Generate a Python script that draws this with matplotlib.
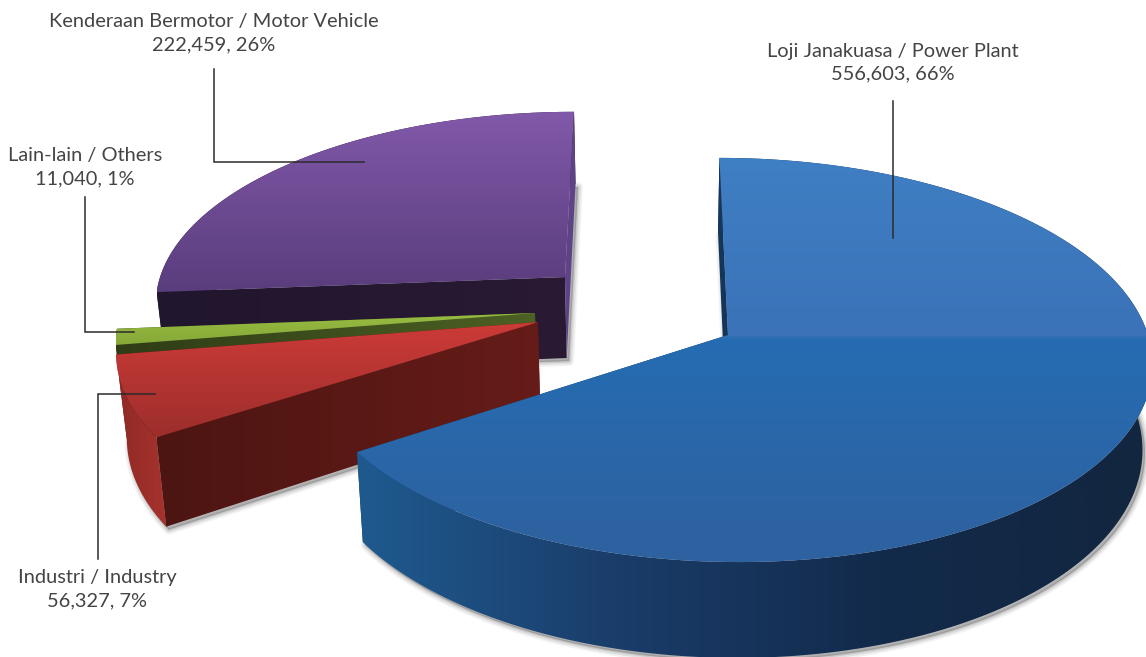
import numpy as np
import matplotlib
matplotlib.use("Agg")
import matplotlib.pyplot as plt
from matplotlib.patches import Polygon
from matplotlib.colors import LinearSegmentedColormap

# Clockwise round the pie, starting from blue at twelve o'clock
categories = ["Loji Janakuasa / Power Plant", "Industri / Industry",
              "Lain-lain / Others", "Kenderaan Bermotor / Motor Vehicle"]
values = [556603, 56327, 11040, 222459]
percents = [66, 7, 1, 26]

# camera, pixels of the picture
VX, VY0 = 650, 335
RADIUS = 420
FLAT = 199
PERSP = 0.1236
DEPTH = 84
SHRINK = 0.98

# how far each slice is pulled out, world units
offsets_x = [78, -113, -116.6, -88.2]
offsets_z = [0.0, 0.065, 0.112, 0.302]

top_colors = [
    [(0, "#3f7fc3"), (0.44, "#3b72b8"), (0.45, "#256cb2"), (1, "#2f619f")],
    [(0, "#cd3b38"), (1, "#9c2e2b")],
    [(0, "#98bc42"), (1, "#86a838")],
    [(0, "#8159a9"), (1, "#5a3d7d")],
]
rim_colors = [
    ["#1f5a8f", "#1a3c69", "#122a4a", "#12263f"],
    ["#8e2a26", "#a8322d"],
    ["#2f3c16", "#36451b"],
    ["#241832", "#241832"],
]
wall_start = [["#14365a", "#14365a"], ["#4c1512", "#661c18"],
              ["#2f3c16", "#4c6124"], ["#20162e", "#2a1a33"]]
wall_end = [["#14365a", "#14365a"], ["#4c1512", "#661c18"],
            ["#2f3c16", "#4c6124"], ["#5f4388", "#5f4388"]]

# which side walls go on top of the curved rim
start_over_rim = [False, True, True, True]
end_over_rim = [False, False, False, True]


def project(x, z, low, ox, oz):
    x = np.asarray(x) + ox
    z = np.asarray(z) + oz
    s = 1 / (1 + PERSP * z)
    sx = VX + x * s
    sy = VY0 - FLAT * z * s
    if low:
        sx = VX + (sx - VX) * SHRINK
        sy = sy + DEPTH * s
    return sx, sy


def grad_fill(ax, pts, colors, horizontal, zorder):
    pts = np.array(pts)
    x0, x1 = pts[:, 0].min(), pts[:, 0].max()
    y0, y1 = pts[:, 1].min(), pts[:, 1].max()
    cmap = LinearSegmentedColormap.from_list("g", colors)
    ramp = np.linspace(0, 1, 512)
    ramp = ramp.reshape(1, -1) if horizontal else ramp.reshape(-1, 1)
    im = ax.imshow(ramp, cmap=cmap, extent=(x0, x1, y1, y0), aspect="auto",
                   interpolation="bilinear", zorder=zorder, vmin=0, vmax=1)
    patch = Polygon(pts, closed=True, transform=ax.transData, fc="none", ec="none")
    ax.add_patch(patch)
    im.set_clip_path(patch)


def side(ax, theta, ox, oz, colors, zorder):
    x = RADIUS * np.sin(theta)
    z = np.cos(theta)
    a = project(0, 0, False, ox, oz)
    b = project(x, z, False, ox, oz)
    c = project(x, z, True, ox, oz)
    d = project(0, 0, True, ox, oz)
    grad_fill(ax, [a, b, c, d], colors, True, zorder)


def shadow(ax, pts, zorder):
    pts = np.array(pts) + np.array([2.5, 3])
    for lw, alpha in [(7, 0.05), (4.5, 0.07), (2, 0.1)]:
        ax.add_patch(Polygon(pts, closed=True, fc=(0, 0, 0, alpha), ec=(0, 0, 0, alpha),
                             lw=lw, zorder=zorder, joinstyle="round"))


fig = plt.figure(figsize=(11.46, 6.57), dpi=100)
ax = fig.add_axes([0, 0, 1, 1])

fractions = np.array(values) / sum(values)
edges = np.concatenate([[0], np.cumsum(fractions) * 2 * np.pi])

# purple first, then green, red and blue in front
order = [3, 2, 1, 0]
z = 1
for i in order:
    t0, t1 = edges[i], edges[i + 1]
    ox, oz = offsets_x[i], offsets_z[i]
    th = np.linspace(t0, t1, 240)
    arc_x = RADIUS * np.sin(th)
    arc_z = np.cos(th)
    tx, ty = project(arc_x, arc_z, False, ox, oz)
    bx, by = project(arc_x, arc_z, True, ox, oz)
    ap = project(0, 0, False, ox, oz)
    ap_low = project(0, 0, True, ox, oz)

    # shadow only from the underside, so the upper edges stay clean
    if i != 2:
        shadow(ax, [ap_low] + list(zip(bx, by)), z)
    z += 1

    if not start_over_rim[i]:
        side(ax, t0, ox, oz, wall_start[i], z)
    if not end_over_rim[i]:
        side(ax, t1, ox, oz, wall_end[i], z)
    z += 1
    rim = list(zip(tx, ty)) + list(zip(bx[::-1], by[::-1]))
    grad_fill(ax, rim, rim_colors[i], True, z)
    z += 1
    if start_over_rim[i]:
        side(ax, t0, ox, oz, wall_start[i], z)
    if end_over_rim[i]:
        side(ax, t1, ox, oz, wall_end[i], z)
    z += 1
    top = [ap] + list(zip(tx, ty))
    grad_fill(ax, top, top_colors[i], False, z)
    z += 1

# leader lines and labels
leaders = [([893, 893], [101, 238]),
           ([98, 98, 155], [559, 394, 394]),
           ([85, 85, 134], [197, 332, 332]),
           ([214, 214, 364], [69, 162, 162])]
label_x = [893, 97, 85, 214]
label_y = [51, 578, 156, 22]

for i in range(4):
    ax.plot(leaders[i][0], leaders[i][1], color="#2b2b2b", lw=1.1, zorder=50,
            solid_joinstyle="miter")
    ax.text(label_x[i], label_y[i], categories[i], ha="center", va="center",
            fontsize=14.4, family="Lato", color="#444444", zorder=51)
    ax.text(label_x[i], label_y[i] + 23, f"{values[i]:,}, {percents[i]}%", ha="center", va="center",
            fontsize=14.4, family="Lato", color="#444444", zorder=51)

ax.set_xlim(0, 1146)
ax.set_ylim(657, 0)
ax.axis("off")
fig.savefig("out.png", dpi=100)
